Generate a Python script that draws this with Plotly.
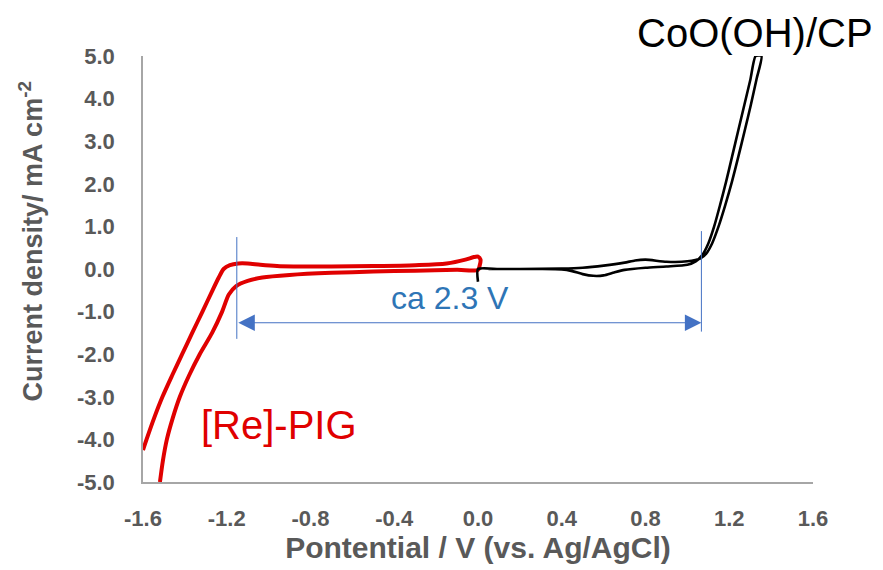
import plotly.graph_objects as go

# ---- data ----
red_x = [-1.600, -1.583, -1.547, -1.507, -1.461, -1.413, -1.365, -1.316, -1.268, -1.238,
         -1.215, -1.185, -1.145, -1.100, -1.040, -0.960, -0.880, -0.700, -0.500, -0.300,
         -0.150, -0.060, -0.020, 0.000, 0.012, 0.008, 0.000,
         -0.100, -0.300, -0.500, -0.700, -0.900, -1.030, -1.100, -1.155, -1.190, -1.222,
         -1.270, -1.329, -1.380, -1.424, -1.458, -1.486, -1.505, -1.519]
red_y = [-4.25, -4.00, -3.50, -3.00, -2.50, -2.00, -1.50, -1.00, -0.50, -0.20,
         0.00, 0.09, 0.13, 0.13, 0.10, 0.07, 0.06, 0.06, 0.07, 0.09,
         0.13, 0.22, 0.28, 0.29, 0.22, 0.08, -0.02,
         -0.02, -0.04, -0.06, -0.09, -0.14, -0.20, -0.28, -0.40, -0.60, -1.00,
         -1.50, -2.00, -2.50, -3.00, -3.50, -4.00, -4.50, -5.00]

black_x = [0.000, 0.000, 0.100, 0.200, 0.300, 0.400, 0.450, 0.500, 0.550, 0.600,
           0.650, 0.700, 0.800, 0.900, 1.000, 1.040, 1.070, 1.100, 1.128, 1.156,
           1.185, 1.214, 1.243, 1.272, 1.301, 1.326,
           1.354, 1.330, 1.303, 1.274, 1.244, 1.213, 1.181, 1.149, 1.118, 1.090,
           1.063, 1.000, 0.900, 0.800, 0.750, 0.700, 0.600, 0.500, 0.400, 0.200, 0.050]
black_y = [-0.30, 0.00, 0.00, 0.00, 0.00, -0.01, -0.05, -0.12, -0.16, -0.15,
           -0.08, -0.02, 0.03, 0.06, 0.10, 0.18, 0.32, 0.60, 1.00, 1.50,
           2.05, 2.65, 3.25, 3.85, 4.45, 5.00,
           5.00, 4.45, 3.85, 3.25, 2.65, 2.05, 1.50, 1.00, 0.60, 0.36,
           0.25, 0.18, 0.17, 0.22, 0.20, 0.15, 0.08, 0.03, 0.01, 0.00, 0.00]

x_ticks = [-1.6, -1.2, -0.8, -0.4, 0.0, 0.4, 0.8, 1.2, 1.6]
x_tick_labels = ["-1.6", "-1.2", "-0.8", "-0.4", "0.0", "0.4", "0.8", "1.2", "1.6"]
y_ticks = [-5, -4, -3, -2, -1, 0, 1, 2, 3, 4, 5]
y_tick_labels = ["-5.0", "-4.0", "-3.0", "-2.0", "-1.0", "0.0", "1.0", "2.0", "3.0", "4.0", "5.0"]

# potential window annotation
win_left, win_right = -1.152, 1.067
win_arrow_y = -1.26

GRAY = "#595959"
BLUE = "#4472C4"
FONT = "Liberation Sans, Arial, sans-serif"

fig = go.Figure()
fig.add_trace(go.Scatter(x=red_x, y=red_y, mode="lines",
                         line=dict(color="#E00000", width=4, shape="spline", smoothing=0.8),
                         showlegend=False))
fig.add_trace(go.Scatter(x=black_x, y=black_y, mode="lines",
                         line=dict(color="#000000", width=2.6, shape="spline", smoothing=0.6),
                         showlegend=False))

fig.add_shape(type="line", x0=win_left, x1=win_left, y0=0.75, y1=-1.64,
              xref="x", yref="y", line=dict(color=BLUE, width=1))
fig.add_shape(type="line", x0=win_right, x1=win_right, y0=0.89, y1=-1.47,
              xref="x", yref="y", line=dict(color=BLUE, width=1))

fig.add_annotation(x=win_right, y=win_arrow_y, ax=win_left, ay=win_arrow_y,
                   xref="x", yref="y", axref="x", ayref="y", text="",
                   showarrow=True, arrowhead=2, startarrowhead=2, arrowside="end+start",
                   arrowsize=3, startarrowsize=3, arrowwidth=1.1, arrowcolor=BLUE)

fig.add_annotation(x=-0.133, y=-0.69, xref="x", yref="y", text="ca 2.3 V",
                   showarrow=False, font=dict(family=FONT, size=32, color="#2E75B6"))
fig.add_annotation(x=-0.952, y=-3.67, xref="x", yref="y", text="[Re]-PIG",
                   showarrow=False, font=dict(family=FONT, size=40, color="#E00000"))
fig.add_annotation(x=0.913, y=1.054, xref="paper", yref="paper", text="CoO(OH)/CP",
                   xanchor="center", yanchor="middle", showarrow=False,
                   font=dict(family=FONT, size=40, color="#000000"))
fig.add_annotation(x=-0.167, y=0.565, xref="paper", yref="paper", textangle=-90,
                   xanchor="center", yanchor="middle",
                   text="<b>Current density/ mA cm<sup>-2</sup></b>", showarrow=False,
                   font=dict(family=FONT, size=27, color=GRAY))

fig.update_layout(
    width=883, height=570,
    margin=dict(l=143, r=70, t=56, b=86),
    paper_bgcolor="white", plot_bgcolor="white",
    font=dict(family=FONT, color=GRAY),
    xaxis=dict(range=[-1.6, 1.6], tickvals=x_ticks, ticktext=x_tick_labels,
               showgrid=False, zeroline=False, showline=True, linecolor="#A6A6A6",
               linewidth=1.5, ticks="", ticklabelstandoff=16,
               tickfont=dict(family=FONT, size=22, color=GRAY, weight="bold"),
               title=dict(text="<b>Pontential / V (vs. Ag/AgCl)</b>", standoff=6,
                          font=dict(family=FONT, size=30, color=GRAY))),
    yaxis=dict(range=[-5, 5], tickvals=y_ticks, ticktext=y_tick_labels,
               showgrid=False, zeroline=False, showline=True, linecolor="#A6A6A6",
               linewidth=1.5, ticks="", ticklabelstandoff=22,
               tickfont=dict(family=FONT, size=22, color=GRAY, weight="bold")),
)

fig.write_html("out.html")
